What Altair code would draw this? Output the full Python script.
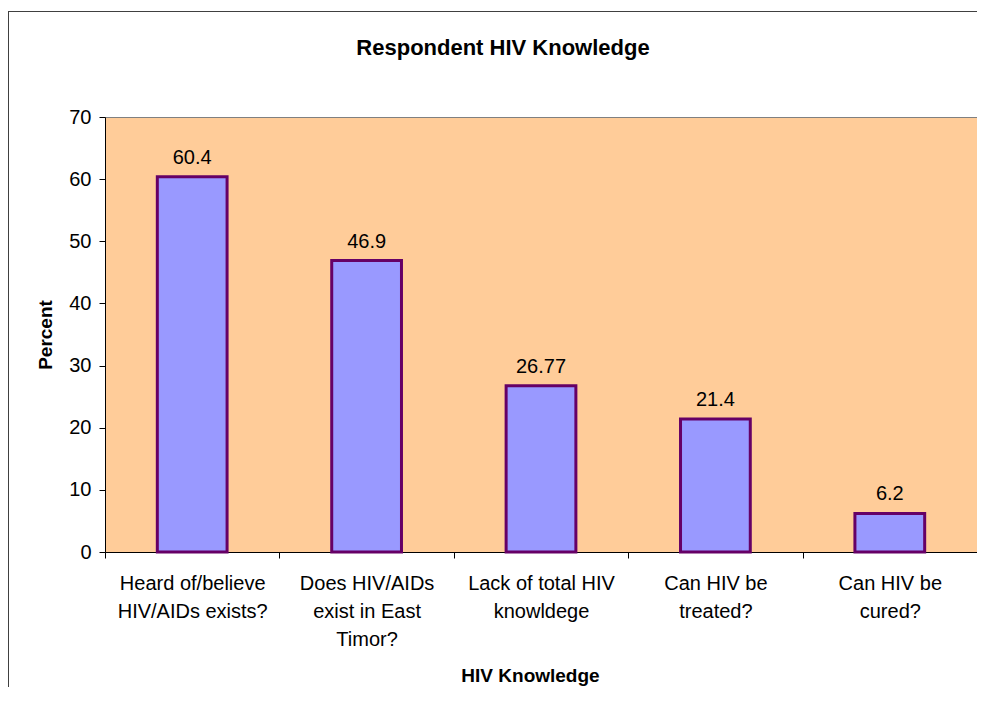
import altair as alt
import pandas as pd

# ---- data ----
label_lines = [
    ["Heard of/believe", "HIV/AIDs exists?"],
    ["Does HIV/AIDs", "exist in East", "Timor?"],
    ["Lack of total HIV", "knowldege"],
    ["Can HIV be", "treated?"],
    ["Can HIV be", "cured?"],
]
values = [60.4, 46.9, 26.77, 21.4, 6.2]
value_labels = ["60.4", "46.9", "26.77", "21.4", "6.2"]
y_ticks = [0, 10, 20, 30, 40, 50, 60, 70]

categories = ["\n".join(l) for l in label_lines]
df = pd.DataFrame({"cat": categories, "val": values, "lbl": value_labels})

W, H = 872, 435
FONT = "Liberation Sans"
PAD_L, PAD_T, PAD_B = 97, 109, 135

x_enc = alt.X(
    "cat:N",
    sort=categories,
    title="HIV Knowledge",
    scale=alt.Scale(paddingInner=0, paddingOuter=0),
    axis=alt.Axis(
        labelAngle=0,
        tickBand="extent",
        labelExpr="split(datum.label, '\\n')",
        labelFont=FONT, labelFontSize=20, labelColor="black",
        labelLineHeight=28, labelPadding=15, labelBaseline="top",
        tickSize=6, tickColor="black", domainColor="black",
        titleFont=FONT, titleFontSize=19, titleFontWeight="bold",
        titleColor="black", titleBaseline="middle",
        titleX=425, titleY=123,
    ),
)
y_enc = alt.Y(
    "val:Q",
    title="Percent",
    scale=alt.Scale(domain=[0, 70], nice=False),
    axis=alt.Axis(
        values=y_ticks, grid=False,
        labelFont=FONT, labelFontSize=20, labelColor="black", labelPadding=8,
        tickSize=6, tickColor="black", domainColor="black",
        titleFont=FONT, titleFontSize=19, titleFontWeight="bold",
        titleColor="black", titleBaseline="middle", titleAngle=-90,
        titleX=-60, titleY=H / 2,
    ),
)

base = alt.Chart(df)
bars = base.mark_bar(
    color="#9999FF", stroke="#660066", strokeWidth=3,
    width=alt.RelativeBandSize(0.4),
).encode(x=x_enc, y=y_enc)

texts = base.mark_text(
    font=FONT, fontSize=20, color="black", baseline="alphabetic", dy=-13,
).encode(x=alt.X("cat:N", sort=categories), y="val:Q", text="lbl:N")

frame_df = pd.DataFrame({"k": [0]})
left_border = alt.Chart(frame_df).mark_rule(color="#404040", strokeWidth=1).encode(
    x=alt.value(-PAD_L + 0.5), y=alt.value(-PAD_T + 3), y2=alt.value(H + PAD_B)
)
top_border = alt.Chart(frame_df).mark_rule(color="#404040", strokeWidth=1).encode(
    x=alt.value(-PAD_L + 0.5), x2=alt.value(W), y=alt.value(-PAD_T + 3.5)
)

chart = alt.layer(bars, texts, left_border, top_border).properties(
    width=W, height=H,
    title=alt.TitleParams(
        "Respondent HIV Knowledge", font=FONT, fontSize=22, fontWeight="bold",
        color="black", anchor="middle", offset=-49, dx=-38,
    ),
    autosize=alt.AutoSizeParams(type="none"),
    padding={"left": PAD_L, "top": PAD_T, "right": 0, "bottom": PAD_B},
    background="white",
).configure_view(
    fill="#FFCC99", stroke="#808080", strokeWidth=1,
)

chart.save("out.html", embed_options={"renderer": "svg", "actions": False})
